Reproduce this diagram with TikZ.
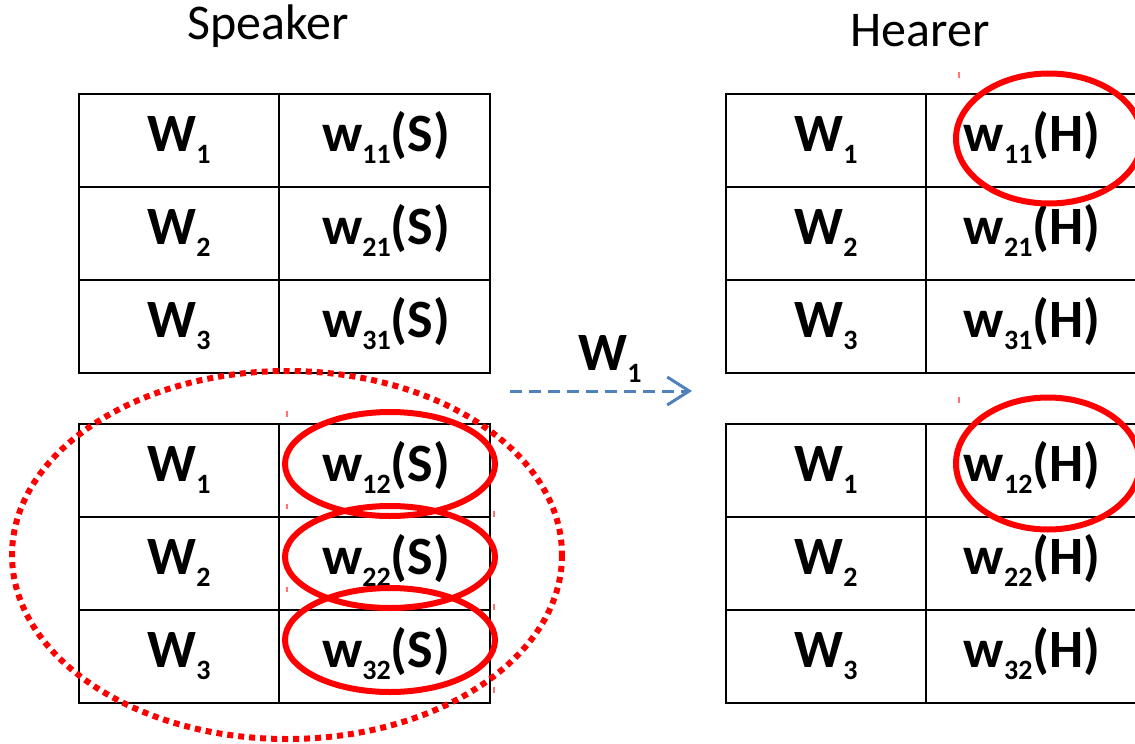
\documentclass[tikz,border=0pt]{standalone}
\usepackage{fontspec}
\setmainfont{Carlito}
\usetikzlibrary{arrows.meta}
\definecolor{arrowblue}{HTML}{4F81BD}
\definecolor{markred}{HTML}{FF0000}
\newcommand{\sbx}[1]{\raisebox{-12.5pt}{\fontsize{28}{28}\selectfont #1}}
\tikzset{
  grid/.style={line width=2.8pt, black},
  celltext/.style={anchor=base, inner sep=0pt, font=\fontsize{54}{60}\selectfont\bfseries},
  title/.style={anchor=base, inner sep=0pt, font=\fontsize{50}{56}\selectfont},
  pick/.style={draw=markred, line width=6pt},
  group/.style={draw=markred, line width=6pt, dash pattern=on 6pt off 5pt},
  tick/.style={draw=markred!55, line width=1.2pt},
  flow/.style={arrowblue, line width=3pt, dash pattern=on 12pt off 7pt,
    -{Straight Barb[length=22pt, width=28pt, line width=3pt]}}
}
\begin{document}
\begin{tikzpicture}[x=1pt, y=-1pt]
\useasboundingbox (0,0) rectangle (1135,744);
\clip (0,0) rectangle (1135,744);

% titles
\node[title] (speaker) at (268,39) {Speaker};
\node[title] (hearer) at (920,46) {Hearer};

% tables
\foreach \xa/\xm/\xb in {79/279/490, 726/926/1137}{
  \foreach \ya/\yb/\yc/\yd in {94/187/280/373, 424/517/610/703}{
    \draw[grid] (\xa,\ya) rectangle (\xb,\yd);
    \draw[grid] (\xm,\ya) -- (\xm,\yd);
    \draw[grid] (\xa,\yb) -- (\xb,\yb);
    \draw[grid] (\xa,\yc) -- (\xb,\yc);
  }
}

% speaker, upper table
\node[celltext] (s1a) at (179,151) {W\sbx{1}};
\node[celltext] (s1b) at (386,151) {w\sbx{11}(S)};
\node[celltext] (s2a) at (179,244) {W\sbx{2}};
\node[celltext] (s2b) at (386,244) {w\sbx{21}(S)};
\node[celltext] (s3a) at (179,337) {W\sbx{3}};
\node[celltext] (s3b) at (386,337) {w\sbx{31}(S)};
% speaker, lower table
\node[celltext] (t1a) at (179,481) {W\sbx{1}};
\node[celltext] (t1b) at (386,481) {w\sbx{12}(S)};
\node[celltext] (t2a) at (179,574) {W\sbx{2}};
\node[celltext] (t2b) at (386,574) {w\sbx{22}(S)};
\node[celltext] (t3a) at (179,667) {W\sbx{3}};
\node[celltext] (t3b) at (386,667) {w\sbx{32}(S)};
% hearer, upper table
\node[celltext] (h1a) at (826,151) {W\sbx{1}};
\node[celltext] (h1b) at (1032,151) {w\sbx{11}(H)};
\node[celltext] (h2a) at (826,244) {W\sbx{2}};
\node[celltext] (h2b) at (1032,244) {w\sbx{21}(H)};
\node[celltext] (h3a) at (826,337) {W\sbx{3}};
\node[celltext] (h3b) at (1032,337) {w\sbx{31}(H)};
% hearer, lower table
\node[celltext] (k1a) at (826,481) {W\sbx{1}};
\node[celltext] (k1b) at (1032,481) {w\sbx{12}(H)};
\node[celltext] (k2a) at (826,574) {W\sbx{2}};
\node[celltext] (k2b) at (1032,574) {w\sbx{22}(H)};
\node[celltext] (k3a) at (826,667) {W\sbx{3}};
\node[celltext] (k3b) at (1032,667) {w\sbx{32}(H)};

% red selection ellipses
\draw[pick] (390,464) ellipse [x radius=105, y radius=52];
\draw[pick] (390,557) ellipse [x radius=105, y radius=51];
\draw[pick] (390,640) ellipse [x radius=105, y radius=52];
\draw[pick] (1049,138.5) ellipse [x radius=93, y radius=65];
\draw[pick] (1048,463.5) ellipse [x radius=92, y radius=66];
\draw[group] (287,555) ellipse [x radius=275, y radius=184];

% tiny marks
\draw[tick] (287,411) -- (287,417);
\draw[tick] (287,504) -- (287,509);
\draw[tick] (287,587) -- (287,592);
\draw[tick] (494,511) -- (494,517);
\draw[tick] (494,604) -- (494,610);
\draw[tick] (494,687) -- (494,693);
\draw[tick] (959,72) -- (959,78);
\draw[tick] (959,397) -- (959,403);

% transmitted word
\coordinate (from) at (510,391);
\coordinate (to) at (692,391);
\draw[flow] (from) -- (to);
\node[celltext] (word) at (610,370) {W\sbx{1}};
\end{tikzpicture}
\end{document}
